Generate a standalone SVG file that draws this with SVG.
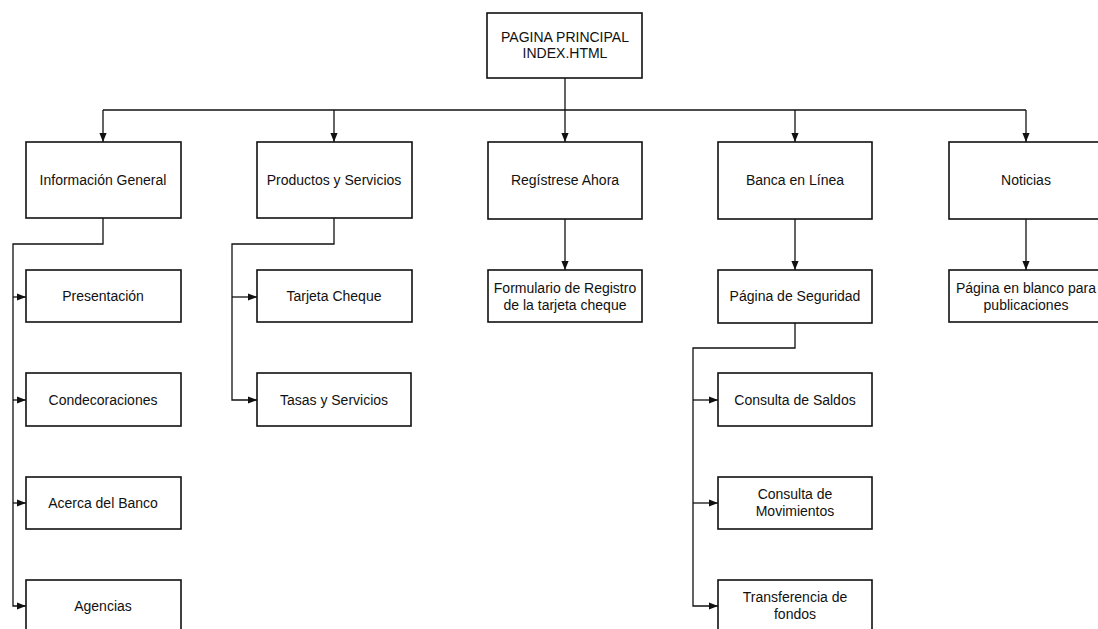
<svg xmlns="http://www.w3.org/2000/svg" width="1098" height="629" viewBox="0 0 1098 629">
<defs>
<marker id="ah" viewBox="0 0 10 10" refX="10" refY="5" markerWidth="10" markerHeight="9" markerUnits="userSpaceOnUse" orient="auto">
<path d="M0,1 L10,5 L0,9 Z" fill="#111"/>
</marker>
<style>
.b{fill:#fff;stroke:#111;stroke-width:1.6}
.t{font-family:"Liberation Sans",Arial,sans-serif;font-size:14px;fill:#111;text-anchor:middle}
.c{fill:none;stroke:#111;stroke-width:1.3}
</style>
</defs>
<rect width="1098" height="629" fill="#fff"/>
<g id="connectors">
<path class="c" d="M565,78 V110"/>
<path class="c" d="M103,110 H1026"/>
<path class="c" d="M103,110 V142" marker-end="url(#ah)"/>
<path class="c" d="M334,110 V142" marker-end="url(#ah)"/>
<path class="c" d="M565,110 V142" marker-end="url(#ah)"/>
<path class="c" d="M795,110 V142" marker-end="url(#ah)"/>
<path class="c" d="M1026,110 V142" marker-end="url(#ah)"/>
<path class="c" d="M103,218 V244 H13 V606 H26" marker-end="url(#ah)"/>
<path class="c" d="M13,297 H26" marker-end="url(#ah)"/>
<path class="c" d="M13,400 H26" marker-end="url(#ah)"/>
<path class="c" d="M13,503 H26" marker-end="url(#ah)"/>
<path class="c" d="M334,218 V244 H232 V400 H257" marker-end="url(#ah)"/>
<path class="c" d="M232,297 H257" marker-end="url(#ah)"/>
<path class="c" d="M565,219 V270" marker-end="url(#ah)"/>
<path class="c" d="M795,219 V270" marker-end="url(#ah)"/>
<path class="c" d="M1026,219 V270" marker-end="url(#ah)"/>
<path class="c" d="M795,323 V348 H693 V606 H718" marker-end="url(#ah)"/>
<path class="c" d="M693,400 H718" marker-end="url(#ah)"/>
<path class="c" d="M693,503 H718" marker-end="url(#ah)"/>
</g>
<g id="principal"><rect class="b" x="487" y="13" width="155" height="65"/><text class="t" x="565" y="42">PAGINA PRINCIPAL</text><text class="t" x="565" y="58">INDEX.HTML</text></g>
<g id="info"><rect class="b" x="26" y="142" width="155" height="76"/><text class="t" x="103" y="185">Información General</text></g>
<g id="productos"><rect class="b" x="257" y="142" width="155" height="76"/><text class="t" x="334" y="185">Productos y Servicios</text></g>
<g id="registrese"><rect class="b" x="488" y="142" width="154" height="77"/><text class="t" x="565" y="185">Regístrese Ahora</text></g>
<g id="banca"><rect class="b" x="718" y="142" width="154" height="77"/><text class="t" x="795" y="185">Banca en Línea</text></g>
<g id="noticias"><rect class="b" x="949" y="142" width="155" height="77"/><text class="t" x="1026" y="185">Noticias</text></g>
<g id="presentacion"><rect class="b" x="26" y="270" width="155" height="52"/><text class="t" x="103" y="301">Presentación</text></g>
<g id="condecoraciones"><rect class="b" x="26" y="373" width="155" height="53"/><text class="t" x="103" y="405">Condecoraciones</text></g>
<g id="acerca"><rect class="b" x="26" y="477" width="155" height="52"/><text class="t" x="103" y="508">Acerca del Banco</text></g>
<g id="agencias"><rect class="b" x="26" y="580" width="155" height="55"/><text class="t" x="103" y="611">Agencias</text></g>
<g id="tarjeta"><rect class="b" x="257" y="270" width="155" height="52"/><text class="t" x="334" y="301">Tarjeta Cheque</text></g>
<g id="tasas"><rect class="b" x="257" y="373" width="154" height="53"/><text class="t" x="334" y="405">Tasas y Servicios</text></g>
<g id="formulario"><rect class="b" x="488" y="270" width="154" height="52"/><text class="t" x="565" y="293">Formulario de Registro</text><text class="t" x="565" y="310">de la tarjeta cheque</text></g>
<g id="seguridad"><rect class="b" x="718" y="270" width="154" height="53"/><text class="t" x="795" y="301">Página de Seguridad</text></g>
<g id="publicaciones"><rect class="b" x="949" y="270" width="155" height="52"/><text class="t" x="1026" y="293">Página en blanco para</text><text class="t" x="1026" y="310">publicaciones</text></g>
<g id="saldos"><rect class="b" x="718" y="373" width="154" height="53"/><text class="t" x="795" y="405">Consulta de Saldos</text></g>
<g id="movimientos"><rect class="b" x="718" y="477" width="154" height="52"/><text class="t" x="795" y="499">Consulta de</text><text class="t" x="795" y="516">Movimientos</text></g>
<g id="transferencia"><rect class="b" x="718" y="580" width="154" height="55"/><text class="t" x="795" y="602">Transferencia de</text><text class="t" x="795" y="619">fondos</text></g>
</svg>
